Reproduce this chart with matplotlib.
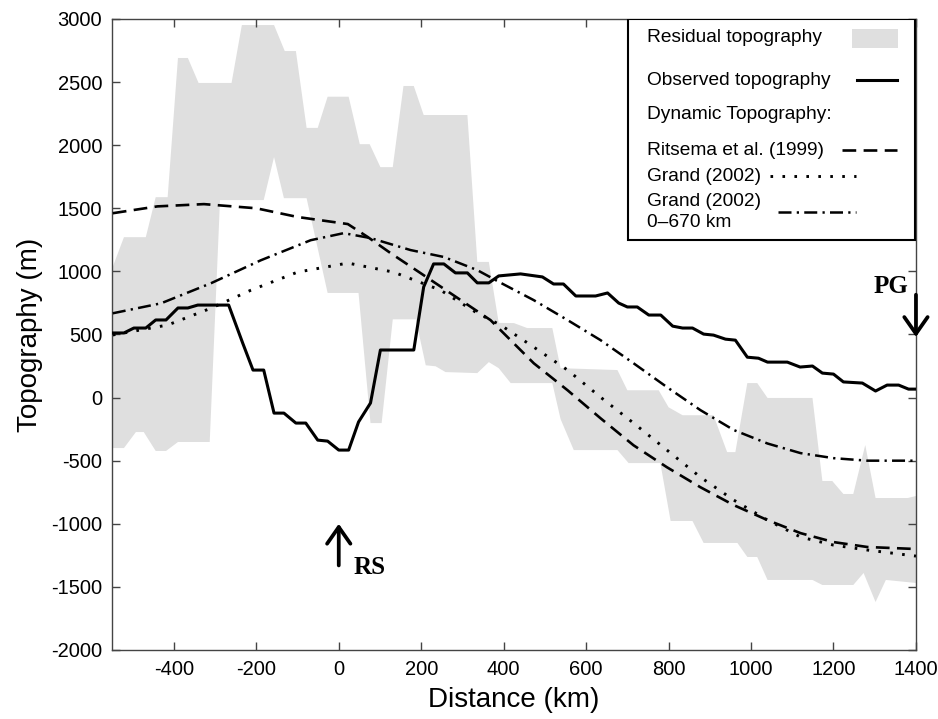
import matplotlib
matplotlib.use('Agg')
import matplotlib.pyplot as plt
from matplotlib.patches import Rectangle
from matplotlib.lines import Line2D

plt.rcParams['font.family'] = ['Liberation Sans', 'DejaVu Sans']
plt.rcParams['axes.unicode_minus'] = False

# residual topography band (upper / lower edge)
band_top_x = [-550, -521, -468, -444, -415, -390, -366, -340, -260, -235, -157, -131, -104, -78, -51,
              -27, 24, 51, 75, 101, 131, 157, 182, 206, 312, 336, 364, 388, 425, 457, 518, 538, 676,
              700, 776, 800, 834, 909, 942, 962, 991, 1015, 1040, 1149, 1173, 1197, 1224, 1248, 1277,
              1302, 1380, 1400]
band_top_y = [1020, 1271, 1271, 1588, 1588, 2691, 2691, 2493, 2493, 2952, 2952, 2746, 2746, 2137, 2137,
              2384, 2384, 2008, 2008, 1826, 1826, 2469, 2469, 2239, 2239, 1075, 1075, 592, 590, 551, 551,
              233, 218, 58, 58, -77, -140, -140, -432, -432, 115, 115, -3, -3, -661, -661, -764, -764,
              -376, -796, -796, -780]
band_bot_x = [-550, -521, -492, -473, -444, -419, -390, -313, -288, -182, -157, -133, -78, -27, 48, 77,
              104, 131, 187, 211, 235, 259, 336, 364, 388, 417, 518, 538, 570, 676, 703, 780, 805, 858,
              885, 967, 991, 1015, 1040, 1149, 1173, 1248, 1273, 1302, 1327, 1400]
band_bot_y = [-400, -400, -273, -273, -423, -423, -352, -352, 1565, 1565, 1906, 1580, 1580, 829, 829,
              -202, -202, 620, 620, 256, 248, 202, 194, 281, 233, 115, 115, -170, -416, -416, -519, -519,
              -978, -978, -1152, -1152, -1263, -1263, -1445, -1445, -1485, -1485, -1390, -1620, -1445, -1469]

# observed topography
obs_x = [-548, -521, -497, -468, -444, -419, -390, -366, -342, -267, -233, -208, -182, -157, -133, -104,
         -80, -51, -27, 0, 24, 48, 77, 101, 182, 206, 230, 255, 283, 312, 336, 364, 388, 441, 494, 521,
         545, 575, 623, 652, 679, 700, 724, 752, 781, 810, 834, 858, 885, 909, 938, 962, 991, 1018, 1040,
         1088, 1119, 1149, 1173, 1200, 1224, 1270, 1302, 1330, 1358, 1382, 1400]
obs_y = [512, 512, 551, 551, 615, 615, 710, 710, 733, 733, 432, 218, 218, -123, -123, -202, -202, -337,
         -345, -416, -416, -193, -43, 377, 377, 877, 1059, 1059, 988, 988, 909, 909, 964, 980, 956, 900,
         900, 805, 805, 829, 749, 718, 718, 654, 654, 566, 551, 551, 503, 495, 463, 455, 320, 312, 281,
         281, 242, 250, 194, 186, 124, 115, 52, 99, 99, 67, 67]

# dynamic topography models
rit_x = [-548, -440, -327, -200, -100, 22, 70, 126, 199, 271, 368, 473, 555, 635, 715, 796, 877, 958,
         1040, 1120, 1200, 1282, 1400]
rit_y = [1461, 1515, 1533, 1500, 1431, 1375, 1273, 1144, 985, 827, 614, 272, 58, -164, -378, -552, -710,
         -852, -971, -1074, -1145, -1184, -1200]
grand_x = [-548, -415, -310, -213, -100, 22, 133, 247, 336, 393, 473, 555, 635, 715, 796, 877, 958, 1040,
           1120, 1200, 1282, 1400]
grand_y = [496, 575, 708, 851, 994, 1066, 994, 851, 669, 574, 400, 218, 3, -202, -416, -630, -812, -971,
           -1105, -1169, -1208, -1256]
g670_x = [-548, -431, -310, -189, -68, 12, 77, 174, 255, 336, 393, 473, 555, 635, 715, 796, 877, 958,
          1040, 1120, 1200, 1282, 1400]
g670_y = [668, 747, 906, 1088, 1247, 1303, 1264, 1169, 1114, 1010, 909, 772, 614, 455, 272, 83, -99,
          -257, -364, -440, -480, -500, -500]

band_color = '#dfdfdf'
dash_rit = (5.2, 2.8)
dash_dot = (0.9, 3.2)
dash_g670 = (5.2, 2.1, 0.9, 2.1)

fig = plt.figure(figsize=(9.38, 7.19), dpi=100)
ax = fig.add_axes([0.1194, 0.096, 0.8571, 0.8776])

ax.fill(band_top_x + band_bot_x[::-1], band_top_y + band_bot_y[::-1],
        color=band_color, lw=0, zorder=1)
ax.plot(obs_x, obs_y, color='black', lw=2.2, zorder=3)
ax.plot(rit_x, rit_y, color='black', lw=1.9, dashes=dash_rit, zorder=3)
ax.plot(grand_x, grand_y, color='black', lw=2.1, dashes=dash_dot, zorder=3)
ax.plot(g670_x, g670_y, color='black', lw=1.8, dashes=dash_g670, zorder=3)

ax.set_xlim(-550, 1400)
ax.set_ylim(-2000, 3000)
ax.set_xticks(range(-400, 1401, 200))
ax.set_yticks(range(-2000, 3001, 500))
ax.tick_params(direction='in', length=6, width=1, color='#444444', top=True, right=True,
               labelsize=14.5, pad=7)
for s in ax.spines.values():
    s.set_color('#444444')
    s.set_linewidth(1)

ax.set_xlabel('Distance (km)', fontsize=20, labelpad=6)
ax.set_ylabel('Topography (m)', fontsize=20, labelpad=6)

# arrows for RS and PG
arrow = dict(arrowstyle='->,head_length=0.6,head_width=0.42', lw=2.7, color='black',
             mutation_scale=20, shrinkA=0, shrinkB=0)
ax.annotate('', xy=(0, -1000), xytext=(0, -1330), arrowprops=arrow, zorder=5)
ax.text(36, -1398, 'RS', family='Liberation Serif', fontweight='bold', fontsize=18, va='baseline')
ax.annotate('', xy=(1400, 480), xytext=(1400, 815), arrowprops=arrow, zorder=5, annotation_clip=False)
ax.text(1382, 827, 'PG', family='Liberation Serif', fontweight='bold', fontsize=18,
        va='baseline', ha='right')

# hand-built legend box
T = ax.transAxes
ax.add_patch(Rectangle((0.642, 0.65), 0.357, 0.35, transform=T, facecolor='white',
                       edgecolor='black', lw=1.5, zorder=6))
fs = 13.8
tx = 0.666
ax.text(tx, 0.970, 'Residual topography', transform=T, fontsize=fs, va='center', zorder=7)
ax.add_patch(Rectangle((0.921, 0.954), 0.057, 0.030, transform=T, facecolor=band_color,
                       lw=0, zorder=7))
ax.text(tx, 0.903, 'Observed topography', transform=T, fontsize=fs, va='center', zorder=7)
ax.add_line(Line2D([0.927, 0.977], [0.903, 0.903], transform=T, color='black', lw=2.2, zorder=7))
ax.text(tx, 0.848, 'Dynamic Topography:', transform=T, fontsize=fs, va='center', zorder=7)
ax.text(tx, 0.792, 'Ritsema et al. (1999)', transform=T, fontsize=fs, va='center', zorder=7)
ax.add_line(Line2D([0.908, 0.977], [0.792, 0.792], transform=T, color='black', lw=1.9,
                   dashes=dash_rit, zorder=7))
ax.text(tx, 0.751, 'Grand (2002)', transform=T, fontsize=fs, va='center', zorder=7)
ax.add_line(Line2D([0.819, 0.925], [0.751, 0.751], transform=T, color='black', lw=2.1,
                   dashes=dash_dot, zorder=7))
ax.text(tx, 0.710, 'Grand (2002)', transform=T, fontsize=fs, va='center', zorder=7)
ax.text(tx, 0.678, '0\u2013670 km', transform=T, fontsize=fs, va='center', zorder=7)
ax.add_line(Line2D([0.828, 0.925], [0.694, 0.694], transform=T, color='black', lw=1.8,
                   dashes=dash_g670, zorder=7))

plt.savefig('out.png', dpi=100)
plt.close()
